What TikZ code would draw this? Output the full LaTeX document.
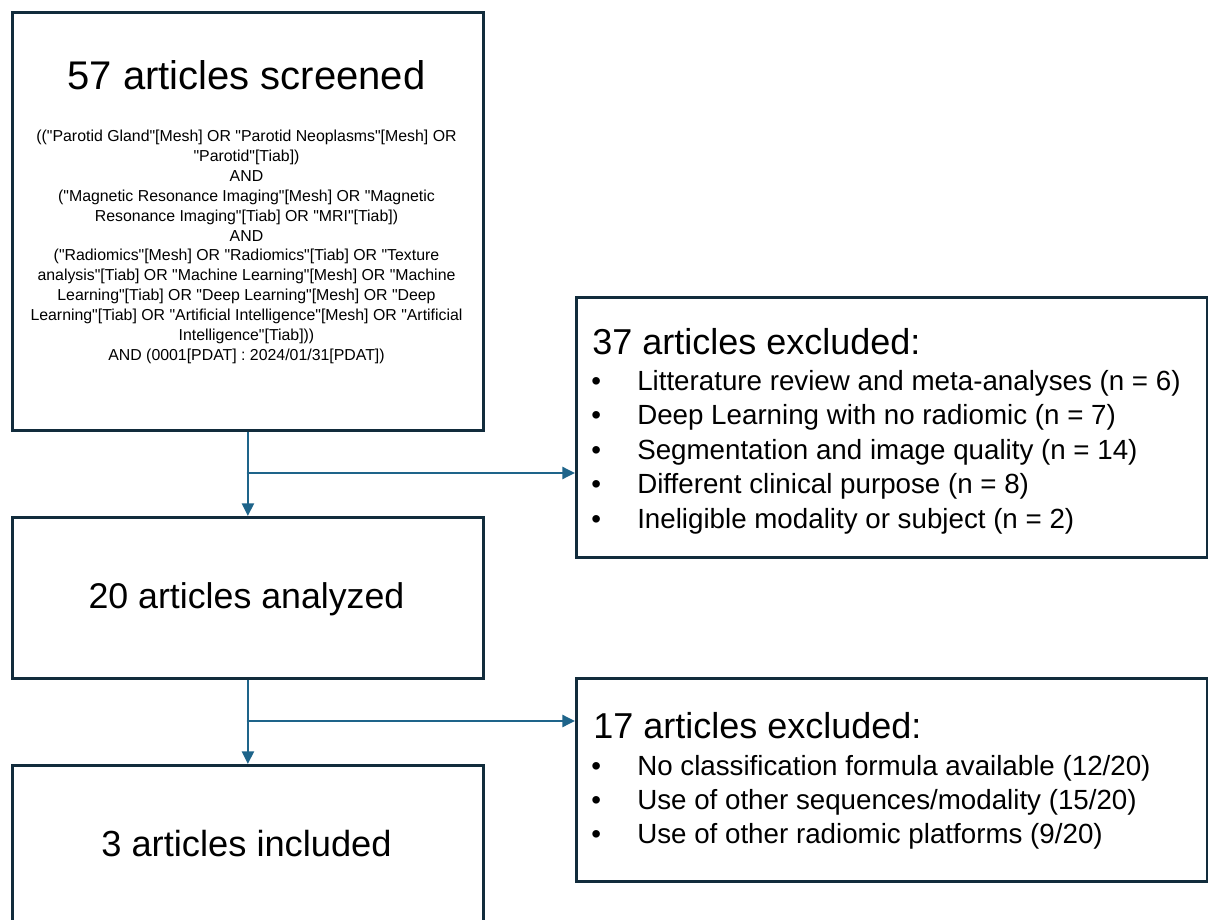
\documentclass[tikz,border=0pt]{standalone}
\usepackage{fontspec}
\setmainfont{Liberation Sans}[Ligatures=TeXOff]
\usepackage{tikz}
\usetikzlibrary{arrows.meta,positioning,calc}
\usepackage{xcolor}
\definecolor{boxline}{RGB}{18,44,60}
\definecolor{flowline}{RGB}{30,100,138}

\begin{document}
\begin{tikzpicture}[x=0.75pt,y=-0.75pt,>={Triangle[length=9.5pt,width=9pt]},
    box/.style={draw=boxline,line width=2.1pt,inner sep=0pt,anchor=north west},
    flow/.style={->,draw=flowline,fill=flowline,line width=1.8pt},
    txt/.style={inner sep=0pt,anchor=base}]
    \useasboundingbox (0,0) rectangle (1208,920);
    \clip (0,0) rectangle (1208,920);
    % left column
    \node[box,minimum width=353.25pt,minimum height=313.5pt] (screened) at (11,11) {};
    \node[box,minimum width=353.25pt,minimum height=120.75pt] (analyzed) at (11,516) {};
    \node[box,minimum width=353.25pt,minimum height=139.5pt] (included) at (11,764) {};
    \node[txt,font=\fontsize{30}{36}\selectfont] (screenedlbl) at (246.5,90) {57 articles screened};
    \node[inner sep=0pt,anchor=north,align=center,font=\fontsize{11.9}{14.9}\selectfont] (query) at (246.5,130)
      {(("Parotid Gland"[Mesh] OR "Parotid Neoplasms"[Mesh] OR\\
       "Parotid"[Tiab])\\
       AND\\
       ("Magnetic Resonance Imaging"[Mesh] OR "Magnetic\\
       Resonance Imaging"[Tiab] OR "MRI"[Tiab])\\
       AND\\
       ("Radiomics"[Mesh] OR "Radiomics"[Tiab] OR "Texture\\
       analysis"[Tiab] OR "Machine Learning"[Mesh] OR "Machine\\
       Learning"[Tiab] OR "Deep Learning"[Mesh] OR "Deep\\
       Learning"[Tiab] OR "Artificial Intelligence"[Mesh] OR "Artificial\\
       Intelligence"[Tiab]))\\
       AND (0001[PDAT] : 2024/01/31[PDAT])};
    \node[txt,font=\fontsize{26.8}{32}\selectfont] (analyzedlbl) at (246.5,608) {20 articles analyzed};
    \node[txt,font=\fontsize{27.2}{32}\selectfont] (includedlbl) at (246.5,856) {3 articles included};
    % right column
    \node[box,minimum width=473.25pt,minimum height=195pt] (excla) at (575,296) {};
    \node[box,minimum width=473.25pt,minimum height=152.25pt] (exclb) at (575,677) {};
    \node[txt,anchor=base west,font=\fontsize{27}{32}\selectfont] (exclatitle) at (592,354) {37 articles excluded:};
    \node[txt,anchor=base west,font=\fontsize{20.8}{26}\selectfont] (exclai) at (591,390) {\makebox[34.5pt][l]{\textbullet}Litterature review and meta-analyses (n = 6)};
    \node[txt,anchor=base west,font=\fontsize{20.8}{26}\selectfont] (exclaii) at (591,424.5) {\makebox[34.5pt][l]{\textbullet}Deep Learning with no radiomic (n = 7)};
    \node[txt,anchor=base west,font=\fontsize{20.8}{26}\selectfont] (exclaiii) at (591,459) {\makebox[34.5pt][l]{\textbullet}Segmentation and image quality (n = 14)};
    \node[txt,anchor=base west,font=\fontsize{20.8}{26}\selectfont] (exclaiv) at (591,493.5) {\makebox[34.5pt][l]{\textbullet}Different clinical purpose (n = 8)};
    \node[txt,anchor=base west,font=\fontsize{20.8}{26}\selectfont] (exclav) at (591,528) {\makebox[34.5pt][l]{\textbullet}Ineligible modality or subject (n = 2)};
    \node[txt,anchor=base west,font=\fontsize{27}{32}\selectfont] (exclbtitle) at (593,738) {17 articles excluded:};
    \node[txt,anchor=base west,font=\fontsize{20.8}{26}\selectfont] (exclbi) at (591,775) {\makebox[34.5pt][l]{\textbullet}No classification formula available (12/20)};
    \node[txt,anchor=base west,font=\fontsize{20.8}{26}\selectfont] (exclbii) at (591,809) {\makebox[34.5pt][l]{\textbullet}Use of other sequences/modality (15/20)};
    \node[txt,anchor=base west,font=\fontsize{20.8}{26}\selectfont] (exclbiii) at (591,843) {\makebox[34.5pt][l]{\textbullet}Use of other radiomic platforms (9/20)};
    % connectors
    \coordinate (splita) at (246.5,473);
    \coordinate (splitb) at (246.5,721);
    \draw[flow] (screened.south) -- (analyzed.north);
    \draw[flow] (splita) -- (splita -| excla.west);
    \draw[flow] (analyzed.south) -- (included.north);
    \draw[flow] (splitb) -- (splitb -| exclb.west);
\end{tikzpicture}
\end{document}
